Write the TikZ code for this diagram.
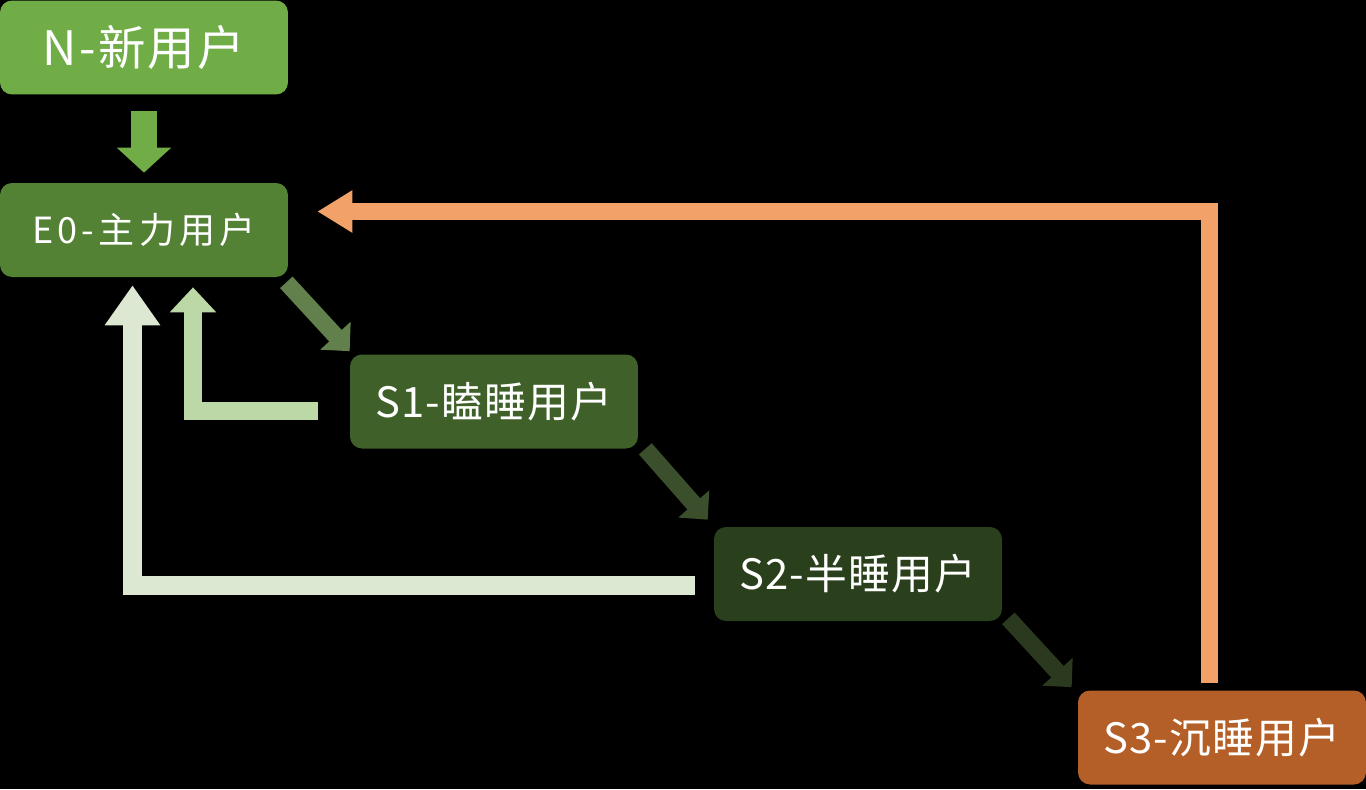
\documentclass[tikz,border=0pt]{standalone}
\usepackage{fontspec}
\usepackage{xcolor}
\usepackage{tikz}
\usetikzlibrary{arrows.meta, positioning}
\setmainfont{Noto Sans CJK SC}

\definecolor{newgreen}{HTML}{70AD47}
\definecolor{maingreen}{HTML}{548235}
\definecolor{dozegreen}{HTML}{3F6129}
\definecolor{halfgreen}{HTML}{2A3F1C}
\definecolor{deeporange}{HTML}{B45F27}
\definecolor{arrowone}{HTML}{62804C}
\definecolor{arrowtwo}{HTML}{3B4F2C}
\definecolor{arrowthree}{HTML}{2B3A1F}
\definecolor{backone}{HTML}{BBD8A6}
\definecolor{backtwo}{HTML}{DCE8D1}
\definecolor{backthree}{HTML}{F2A169}

\tikzset{
    userbox/.style={rounded corners=0.24cm, minimum width=5.76cm, minimum height=1.88cm,
        inner sep=0pt, text=white},
    blockarrow/.style n args={3}{line width=#1, -{Triangle[width=#2, length=#3]}}
}

\begin{document}
\begin{tikzpicture}[x=0.02cm, y=-0.02cm]
    % 1. Nền đen
    \fill[black] (0,0) rectangle (1366,789);

    % 2. Các nhóm người dùng
    \node[userbox, fill=newgreen, font=\fontsize{27pt}{30pt}\selectfont\addfontfeature{LetterSpace=5}] (n) at (144,47.5) {N-新用户};
    \node[userbox, fill=maingreen, font=\fontsize{20.5pt}{24pt}\selectfont\addfontfeature{LetterSpace=12}] (e0) at (144,230) {E0-主力用户};
    \node[userbox, fill=dozegreen, font=\fontsize{23.8pt}{26pt}\selectfont\addfontfeature{LetterSpace=3}] (s1) at (494,401.5) {S1-瞌睡用户};
    \node[userbox, fill=halfgreen, font=\fontsize{23.8pt}{26pt}\selectfont\addfontfeature{LetterSpace=3}] (s2) at (858,574) {S2-半睡用户};
    \node[userbox, fill=deeporange, font=\fontsize{23.8pt}{26pt}\selectfont\addfontfeature{LetterSpace=3}] (s3) at (1222,737.5) {S3-沉睡用户};

    % 3. Mũi tên đi xuống
    \draw[newgreen, blockarrow={0.54cm}{1.06cm}{0.5cm}]
        ([yshift=-0.32cm]n.south) -- ([yshift=0.2cm]e0.north);
    \draw[arrowone, blockarrow={0.34cm}{0.8cm}{0.42cm}]
        ([shift={(-2,5)}]e0.south east) -- ([shift={(0,-3)}]s1.north west);
    \draw[arrowtwo, blockarrow={0.34cm}{0.8cm}{0.42cm}]
        ([shift={(7,0)}]s1.south east) -- ([shift={(-6,-7)}]s2.north west);
    \draw[arrowthree, blockarrow={0.34cm}{0.8cm}{0.42cm}]
        ([shift={(6,-3)}]s2.south east) -- ([shift={(-6,-3)}]s3.north west);

    % 4. Mũi tên quay về E0
    \draw[backone, blockarrow={0.36cm}{0.9cm}{0.5cm}]
        ([shift={(-32,9.5)}]s1.west) -| ([shift={(49,10)}]e0.south);
    \draw[backtwo, blockarrow={0.38cm}{1.06cm}{0.8cm}]
        ([shift={(-19,11.5)}]s2.west) -| ([shift={(-11.5,8)}]e0.south);
    \draw[backthree, blockarrow={0.34cm}{0.8cm}{0.7cm}]
        ([shift={(-13,-7)}]s3.north) |- ([shift={(29,-18.5)}]e0.east);
\end{tikzpicture}
\end{document}
